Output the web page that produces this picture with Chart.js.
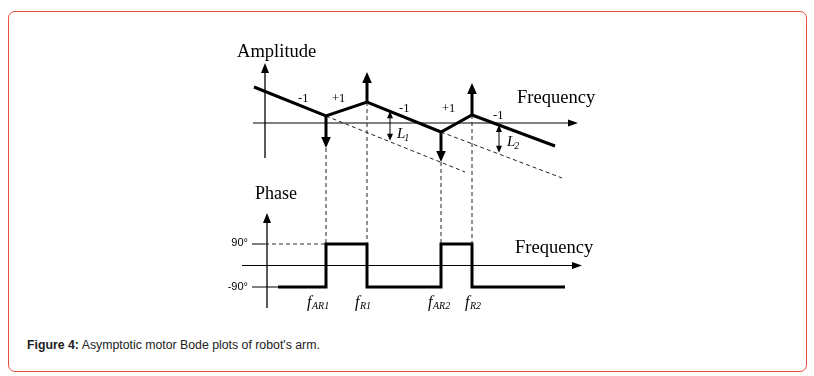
<!DOCTYPE html>
<html><head><meta charset="utf-8">
<script src="https://cdn.jsdelivr.net/npm/chart.js@4/dist/chart.umd.min.js"></script>
<style>
html,body{margin:0;padding:0;background:#fff;width:814px;height:376px;overflow:hidden}
#frame{position:absolute;left:8px;top:11px;width:797px;height:359px;border:1px solid #e84e3a;border-radius:7px}
#wrap{position:absolute;left:200px;top:30px;width:420px;height:300px}
#cap{position:absolute;left:27px;top:338px;font:12.3px "Liberation Sans",Arial,sans-serif;color:#222;white-space:nowrap}
</style></head><body>
<div id="frame"></div>
<div id="wrap"><canvas id="c" width="420" height="300"></canvas></div>
<div id="cap"><b>Figure 4:</b> Asymptotic motor Bode plots of robot's arm.</div>
<script>
// ---- data ----
const breakFreqs = [6.1, 10.2, 17.6, 20.7];          // fAR1, fR1, fAR2, fR2
const breakNames = ["AR1", "R1", "AR2", "R2"];
const ampFreq = [-1.1, 6.1, 10.2, 17.6, 20.7, 29.0];
const ampGain = [3.6, 0.7, 2.1, -0.9, 0.8, -2.3];
const slopeLabels = ["-1", "+1", "-1", "+1", "-1"];
const arrowTipGain = [-2.5, 5.1, -3.9, 4.0];          // arrows at break freqs
const asym1Freq = [6.1, 20.0];
const asym1Gain = [0.7, -4.9];
const asym2Freq = [17.6, 29.7];
const asym2Gain = [-0.9, -5.5];
const lNames = ["1", "2"];
const lFreq = [12.5, 23.4];
const lTopGain = [1.17, -0.21];
const lBottomGain = [-1.78, -2.97];
const phaseFreq = [1.3, 6.1, 6.1, 10.2, 10.2, 17.6, 17.6, 20.7, 20.7, 30.0];
const phaseDeg = [-90, -90, 90, 90, -90, -90, 90, 90, -90, -90];
const phaseTicks = [90, -90];
const phaseTickLabels = ["90°", "-90°"];

// ---- layout (not data) ----
const K = 180 / 43;
const pts = (xs, ys) => xs.map((x, i) => ({x: x, y: ys[i]}));
const serif = '"Liberation Serif","Times New Roman",serif';
const ampAxes = {x: [-1.2, 31.3], y: [-3.5, 6.0]};
const phAxes = {x: [-2.3, 31.7], y: [-178, 220], x0: 0.2};

const base = {borderColor: '#000', pointRadius: 0, fill: false, tension: 0, borderJoinStyle: 'miter'};
const datasets = [
  Object.assign({}, base, {data: pts(ampFreq, ampGain), yAxisID: 'yA', borderWidth: 3}),
  Object.assign({}, base, {data: pts(asym1Freq, asym1Gain), yAxisID: 'yA', borderWidth: 1, borderDash: [4, 3], borderColor: '#222'}),
  Object.assign({}, base, {data: pts(asym2Freq, asym2Gain), yAxisID: 'yA', borderWidth: 1, borderDash: [4, 3], borderColor: '#222'}),
  Object.assign({}, base, {data: pts(phaseFreq, phaseDeg), yAxisID: 'yP', borderWidth: 3}),
  Object.assign({}, base, {data: [{x: 0, y: phaseTicks[0]}, {x: breakFreqs[0], y: phaseTicks[0]}], yAxisID: 'yP', borderWidth: 1, borderDash: [4, 3], borderColor: '#333'}),
  Object.assign({}, base, {data: [{x: -1.3, y: phaseTicks[0]}, {x: 0, y: phaseTicks[0]}], yAxisID: 'yP', borderWidth: 1}),
  Object.assign({}, base, {data: [{x: -1.3, y: phaseTicks[1]}, {x: phaseFreq[0], y: phaseTicks[1]}], yAxisID: 'yP', borderWidth: 1})
];

function arrowHead(ctx, x1, y1, x2, y2, len, half) {
  const a = Math.atan2(y2 - y1, x2 - x1);
  ctx.beginPath();
  ctx.moveTo(x2, y2);
  ctx.lineTo(x2 - len * Math.cos(a) + half * Math.sin(a), y2 - len * Math.sin(a) - half * Math.cos(a));
  ctx.lineTo(x2 - len * Math.cos(a) - half * Math.sin(a), y2 - len * Math.sin(a) + half * Math.cos(a));
  ctx.closePath();
  ctx.fill();
}
function arrow(ctx, x1, y1, x2, y2, w, len, half, both) {
  const a = Math.atan2(y2 - y1, x2 - x1);
  ctx.lineWidth = w;
  ctx.setLineDash([]);
  ctx.beginPath();
  ctx.moveTo(both ? x1 + len * 0.8 * Math.cos(a) : x1, both ? y1 + len * 0.8 * Math.sin(a) : y1);
  ctx.lineTo(x2 - len * 0.8 * Math.cos(a), y2 - len * 0.8 * Math.sin(a));
  ctx.stroke();
  arrowHead(ctx, x1, y1, x2, y2, len, half);
  if (both) arrowHead(ctx, x2, y2, x1, y1, len, half);
}
function text(ctx, s, x, y, font, align, sx) {
  ctx.save();
  ctx.font = font;
  ctx.textBaseline = 'alphabetic';
  ctx.textAlign = 'left';
  const w = ctx.measureText(s).width * (sx || 1);
  let x0 = x;
  if (align === 'right') x0 = x - w;
  if (align === 'center') x0 = x - w / 2;
  ctx.translate(x0, y);
  ctx.scale(sx || 1, 1);
  ctx.fillText(s, 0, 0);
  ctx.restore();
  return w;
}

const deco = {
  id: 'deco',
  afterDatasetsDraw(chart) {
    const ctx = chart.ctx, X = chart.scales.x, A = chart.scales.yA, P = chart.scales.yP;
    const px = v => X.getPixelForValue(v), pa = v => A.getPixelForValue(v), pp = v => P.getPixelForValue(v);
    ctx.save();
    ctx.strokeStyle = '#000'; ctx.fillStyle = '#000';
    ctx.lineCap = 'butt';
    // amplitude axes
    arrow(ctx, px(0), pa(ampAxes.y[0]), px(0), pa(ampAxes.y[1]), 1.3, 10, 4);
    arrow(ctx, px(ampAxes.x[0]), pa(0), px(ampAxes.x[1]), pa(0), 1.1, 10, 3.6);
    // phase axes
    arrow(ctx, px(phAxes.x0), pp(phAxes.y[0]), px(phAxes.x0), pp(phAxes.y[1]), 1.3, 10, 4);
    arrow(ctx, px(phAxes.x[0]), pp(0), px(phAxes.x[1]), pp(0), 1.1, 10, 3.6);
    // break arrows
    breakFreqs.forEach((f, i) => {
      arrow(ctx, px(f), pa(ampGain[i + 1]), px(f), pa(arrowTipGain[i]), 3, 11, 4.8);
    });
    // L markers
    lFreq.forEach((f, i) => {
      arrow(ctx, px(f), pa(lTopGain[i]), px(f), pa(lBottomGain[i]), 1, 7, 3, true);
    });
    // vertical dashed connectors
    ctx.lineWidth = 1; ctx.setLineDash([4, 3]); ctx.strokeStyle = '#222';
    breakFreqs.forEach((f, i) => {
      const start = Math.min(ampGain[i + 1], arrowTipGain[i]);
      ctx.beginPath();
      ctx.moveTo(px(f), pa(start));
      ctx.lineTo(px(f), pp(phaseTicks[0]));
      ctx.stroke();
    });
    ctx.setLineDash([]);
    ctx.fillStyle = '#000';
    // texts
    text(ctx, 'Amplitude', px(-2.8), pa(6.6), '18px ' + serif, 'left', 1.03);
    text(ctx, 'Frequency', px(25.2), pa(1.97), '18px ' + serif, 'left', 1.03);
    const slopePos = [[3.3, 2.1], [6.7, 2.1], [13.4, 1.1], [17.7, 1.1], [22.8, 0.4]];
    slopeLabels.forEach((s, i) => text(ctx, s, px(slopePos[i][0]), pa(slopePos[i][1]), '12.5px ' + serif, 'left'));
    const lPos = [[13.2, -1.5], [24.2, -2.3]];
    lNames.forEach((n, i) => {
      const w = text(ctx, 'L', px(lPos[i][0]), pa(lPos[i][1]), 'italic 15px ' + serif, 'left');
      text(ctx, n, px(lPos[i][0]) + w - 1, pa(lPos[i][1]) + 3, 'italic 10px ' + serif, 'left');
    });
    text(ctx, 'Phase', px(-1.0), pp(278.4), '18px ' + serif, 'left');
    text(ctx, 'Frequency', px(25.0), pp(52.3), '18px ' + serif, 'left', 1.03);
    const tickLab = [81.6, -102.6];
    phaseTickLabels.forEach((s, i) => text(ctx, s, px(-1.7), pp(tickLab[i]), '11px "Liberation Sans",Arial,sans-serif', 'right'));
    const fPos = [4.2, 9.0, 16.3, 20.0];
    breakNames.forEach((n, i) => {
      const w = text(ctx, 'f', px(fPos[i]), pp(-173.7), 'italic 16px ' + serif, 'left');
      text(ctx, n, px(fPos[i]) + w + 0.5, pp(-173.7) + 2, 'italic 10px ' + serif, 'left');
    });
    ctx.restore();
  }
};

new Chart(document.getElementById('c'), {
  type: 'line',
  data: {datasets: datasets},
  options: {
    responsive: false, animation: false, devicePixelRatio: 1,
    layout: {padding: 0},
    plugins: {legend: {display: false}, tooltip: {enabled: false}},
    scales: {
      x: {type: 'linear', display: false, min: -6.5, max: 35.5},
      yA: {type: 'linear', display: false, min: -20.7, max: 9.3},
      yP: {type: 'linear', display: false, min: -90 - 43 * K, max: 90 + 214 * K}
    }
  },
  plugins: [deco]
});
</script>
</body></html>
